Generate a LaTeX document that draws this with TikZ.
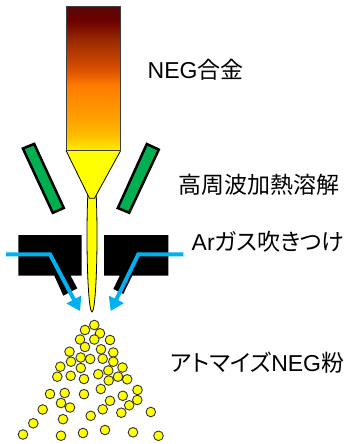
\documentclass[tikz,border=0pt]{standalone}
\usepackage{fontspec}
\setmainfont{Liberation Sans}
\newfontfamily\jpfont{Noto Sans CJK JP}
\newfontfamily\jpkana[RawFeature=+palt]{Noto Sans CJK JP}
\usetikzlibrary{arrows.meta}

\definecolor{coilgreen}{HTML}{00B050}
\definecolor{gasblue}{HTML}{00B0F0}
\definecolor{melt}{HTML}{FFFF00}
\definecolor{rim}{HTML}{333333}

% hot ingot: dark red at the top, orange in the middle, yellow at the bottom
\pgfdeclareverticalshading{ingotshade}{100bp}{
  rgb(0bp)=(1,0.93,0);
  rgb(25bp)=(1,0.93,0);
  rgb(27bp)=(1,0.86,0);
  rgb(30bp)=(1,0.75,0);
  rgb(35.5bp)=(1,0.64,0);
  rgb(42.4bp)=(1,0.55,0);
  rgb(47.7bp)=(1,0.48,0);
  rgb(52.9bp)=(0.86,0.32,0);
  rgb(63.4bp)=(0.60,0.16,0);
  rgb(70.4bp)=(0.42,0,0);
  rgb(75bp)=(0.35,0.03,0.03);
  rgb(100bp)=(0.35,0.03,0.03)}

\tikzset{
  lbl/.style={inner sep=0pt, font=\fontsize{23pt}{27pt}\selectfont},
  coil/.style={fill=coilgreen, draw=black, line width=2.5pt, line join=miter},
  nozzle/.style={fill=black},
  gasflow/.style={draw=gasblue, line width=4pt, line join=miter,
    -{Triangle[length=13pt,width=16pt]}},
  drop/.style={fill=melt, draw=rim, line width=0.9pt},
}

\begin{document}
\begin{tikzpicture}[x=1pt,y=-1pt]
\useasboundingbox (0,0) rectangle (348,444);

% molten stream
\draw[fill=melt, draw=black, line width=0.8pt] (92,236) ellipse [x radius=5pt, y radius=76pt];
% tapered tip of the ingot
\filldraw[fill=melt, draw=black, line width=0.8pt]
  (66,150.5) -- (89.5,198.3) -- (94.5,198.3) -- (120.7,150.5);
% ingot
\path[shading=ingotshade, draw=black!75, line width=0.8pt] (66,6.7) rectangle (120.7,150.5);

% induction coils
\draw[coil] (22.9,148.5) -- (34.2,143.9) -- (63.8,208) -- (52.8,212.8) -- cycle;
\draw[coil] (146.8,144) -- (158.8,149.6) -- (129.2,212.7) -- (117.8,208.1) -- cycle;

% gas nozzles
\fill[nozzle] (18.3,235) -- (81.7,235) -- (81.7,275.7) -- (70.6,275.7)
  -- (77.3,288.3) -- (63.3,295.7) -- (54.3,275.7) -- (18.3,275.7) -- cycle;
\fill[nozzle] (104,235) -- (168.3,235) -- (168.3,275.7) -- (132.2,275.7)
  -- (123.3,294) -- (113.3,289) -- (119.8,275.7) -- (104,275.7) -- cycle;

% argon gas jets
\coordinate (gl0) at (6,254.3);
\coordinate (gl1) at (50,254.3);
\coordinate (gl2) at (80,311);
\coordinate (gr0) at (183.3,254.3);
\coordinate (gr1) at (138.3,254.3);
\coordinate (gr2) at (110.7,311);
\draw[gasflow] (gl0) -- (gl1) -- (gl2);
\draw[gasflow] (gr0) -- (gr1) -- (gr2);

% atomized powder
\foreach \px/\py in {
  94.3/325, 85/330, 100/333.3, 80/339.5, 94.3/339.5, 110/340,
  85/347, 101/349.3, 69.5/351.7, 113.3/352.5, 80.7/357.5, 90.2/359,
  71/361.7, 102.7/358.8, 113.3/361.7, 60.3/366.7, 80.8/368, 108.3/370.5,
  122.5/367.5, 57.3/376.7, 70.7/375.8, 84/379, 98.3/374.2, 108.7/380.5,
  118/376.7, 127.2/379.3, 50/394, 64.7/393, 84/394.2, 100.8/389,
  137.5/390, 61/403, 70/407.5, 110/400.8, 122.8/395.8, 137.3/400,
  42.7/409.5, 102.7/409.3, 129.2/405.3, 121.3/412.7, 150.8/412,
  63/419.2, 90.7/415.8, 33.3/423.3, 23/434.5, 61/435.7, 83/433,
  105/430, 133/432.3, 158.5/435.8}
  \draw[drop] (\px,\py) circle [radius=4.8pt];

% labels
\node[lbl, anchor=base west] (alloy) at (147.5,78.3) {NEG{\jpfont 合金}};
\node[lbl, anchor=base west] (heating) at (178,193) {\jpfont 高周波加熱溶解};
\node[lbl, anchor=base west] (argon) at (191.5,250) {Ar{\jpkana ガス}{\jpfont 吹}{\jpkana きつけ}};
\node[lbl, anchor=base west] (powder) at (170.5,371.5) {{\jpkana アトマイズ}NEG{\jpfont 粉}};
\end{tikzpicture}
\end{document}
